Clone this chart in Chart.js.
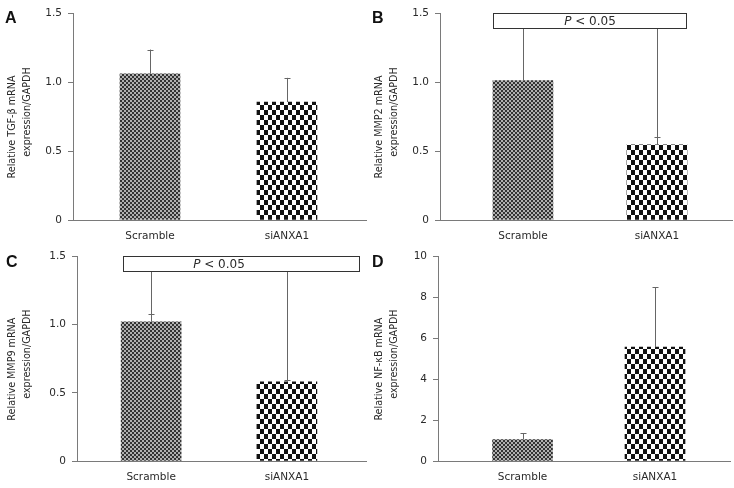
<!DOCTYPE html>
<html>
<head>
<meta charset="utf-8">
<script src="https://cdn.jsdelivr.net/npm/chart.js@4.4.1/dist/chart.umd.min.js"></script>
<style>
  html, body { margin: 0; padding: 0; background: #fff; }
  #wrap { position: relative; width: 734px; height: 488px; overflow: hidden; }
  canvas { position: absolute; }
</style>
</head>
<body>
<div id="wrap">
  <canvas id="cA" width="367" height="244" style="left:0;top:0"></canvas>
  <canvas id="cB" width="367" height="244" style="left:367px;top:0"></canvas>
  <canvas id="cC" width="367" height="244" style="left:0;top:244px"></canvas>
  <canvas id="cD" width="367" height="244" style="left:367px;top:244px"></canvas>
</div>
<script>
// data
const categories = ['Scramble', 'siANXA1'];

const meansA = [1.06, 0.855];
const errA = [0.175, 0.175];
const meansB = [1.01, 0.545];
const errB = [0, 0.055];
const meansC = [1.02, 0.58];
const errC = [0.055, 0.01];
const meansD = [1.05, 5.56];
const errD = [0.31, 2.92];

const ticksSmall = [0, 0.5, 1.0, 1.5];
const tickLabelsSmall = ['0', '0.5', '1.0', '1.5'];
const ticksD = [0, 2, 4, 6, 8, 10];
const tickLabelsD = ['0', '2', '4', '6', '8', '10'];

const titleA = ['Relative TGF-\u03B2 mRNA', 'expression/GAPDH'];
const titleB = ['Relative MMP2 mRNA', 'expression/GAPDH'];
const titleC = ['Relative MMP9 mRNA', 'expression/GAPDH'];
const titleD = ['Relative NF-\u03BAB mRNA', 'expression/GAPDH'];

const sigLabel = ['P', ' < 0.05'];

// layout of each panel (pixels inside its own canvas)
const panels = [
  { id: 'cA', letter: 'A', means: meansA, err: errA, ticks: ticksSmall, labels: tickLabelsSmall, yMax: 1.5,
    title: titleA, area: { l: 73, r: 366, t: 13, b: 220 }, xMin: -0.562, xMax: 1.577, sig: null },
  { id: 'cB', letter: 'B', means: meansB, err: errB, ticks: ticksSmall, labels: tickLabelsSmall, yMax: 1.5,
    title: titleB, area: { l: 73, r: 365, t: 13, b: 220 }, xMin: -0.619, xMax: 1.56,
    sig: { x0: -0.224, x1: 1.216, y0: 1.39, y1: 1.5 } },
  { id: 'cC', letter: 'C', means: meansC, err: errC, ticks: ticksSmall, labels: tickLabelsSmall, yMax: 1.5,
    title: titleC, area: { l: 77, r: 367, t: 11, b: 217 }, xMin: -0.546, xMax: 1.59,
    sig: { x0: -0.207, x1: 1.53, y0: 1.395, y1: 1.5 } },
  { id: 'cD', letter: 'D', means: meansD, err: errD, ticks: ticksD, labels: tickLabelsD, yMax: 10,
    title: titleD, area: { l: 71, r: 363, t: 11, b: 217 }, xMin: -0.638, xMax: 1.566, sig: null }
];

const FONT = 'DejaVu Sans';
const TEXT = '#2a2a2a';
const AXIS = '#7a7a7a';

Chart.defaults.font.family = FONT;
Chart.defaults.font.size = 10.5;
Chart.defaults.color = TEXT;

function makePattern(cw, ch, dark, light) {
  const c = document.createElement('canvas');
  c.width = cw * 2;
  c.height = ch * 2;
  const g = c.getContext('2d');
  g.fillStyle = light;
  g.fillRect(0, 0, c.width, c.height);
  g.fillStyle = dark;
  g.fillRect(0, 0, cw, ch);
  g.fillRect(cw, ch, cw, ch);
  return g.createPattern(c, 'repeat');
}

const patScramble = makePattern(2, 2, '#333333', '#b0b0b0');
const patSi = makePattern(4, 5, '#111111', '#ffffff');

const decorPlugin = {
  id: 'decor',
  afterDatasetsDraw(chart, args, opts) {
    const p = opts.panel;
    const ctx = chart.ctx;
    const xs = chart.scales.x, ys = chart.scales.y;
    ctx.save();
    ctx.strokeStyle = '#666';
    ctx.lineWidth = 1;
    // upper error bars
    p.means.forEach((m, i) => {
      if (!p.err[i]) return;
      const x = Math.round(xs.getPixelForValue(i)) + 0.5;
      const yTop = ys.getPixelForValue(m + p.err[i]);
      const yBar = ys.getPixelForValue(m);
      ctx.beginPath();
      ctx.moveTo(x, yBar);
      ctx.lineTo(x, yTop);
      ctx.moveTo(x - 3, Math.round(yTop) + 0.5);
      ctx.lineTo(x + 3, Math.round(yTop) + 0.5);
      ctx.stroke();
    });
    // significance bracket
    if (p.sig) {
      const s = p.sig;
      const bx0 = Math.round(xs.getPixelForValue(s.x0)) + 0.5;
      const bx1 = Math.round(xs.getPixelForValue(s.x1)) + 0.5;
      const by0 = Math.round(ys.getPixelForValue(s.y0)) + 0.5;
      const by1 = Math.round(ys.getPixelForValue(s.y1)) + 0.5;
      ctx.beginPath();
      p.means.forEach((m, i) => {
        const x = Math.round(xs.getPixelForValue(i)) + 0.5;
        ctx.moveTo(x, ys.getPixelForValue(m + p.err[i]));
        ctx.lineTo(x, by0);
      });
      ctx.stroke();
      ctx.fillStyle = '#fff';
      ctx.fillRect(bx0, by1, bx1 - bx0, by0 - by1);
      ctx.strokeStyle = '#333';
      ctx.strokeRect(bx0, by1, bx1 - bx0, by0 - by1);
      // text centred between the two bars
      const cx = (xs.getPixelForValue(0) + xs.getPixelForValue(1)) / 2;
      const cy = (by0 + by1) / 2 + 0.5;
      ctx.font = 'italic 12px ' + FONT;
      const w0 = ctx.measureText(sigLabel[0]).width;
      ctx.font = '12px ' + FONT;
      const w1 = ctx.measureText(sigLabel[1]).width;
      let tx = cx - (w0 + w1) / 2;
      ctx.fillStyle = TEXT;
      ctx.textBaseline = 'middle';
      ctx.textAlign = 'left';
      ctx.font = 'italic 12px ' + FONT;
      ctx.fillText(sigLabel[0], tx, cy);
      ctx.font = '12px ' + FONT;
      ctx.fillText(sigLabel[1], tx + w0, cy);
    }
    // y axis title, two lines
    const mid = (chart.chartArea.top + chart.chartArea.bottom) / 2;
    ctx.fillStyle = TEXT;
    ctx.font = '9.6px ' + FONT;
    ctx.textAlign = 'center';
    ctx.textBaseline = 'middle';
    [[12.5, 10.5], [27.5, -4.5]].forEach((pos, k) => {
      ctx.save();
      ctx.translate(pos[0], mid + pos[1]);
      ctx.rotate(-Math.PI / 2);
      ctx.fillText(p.title[k], 0, 0);
      ctx.restore();
    });
    // panel letter
    ctx.font = 'bold 16px "Liberation Sans"';
    ctx.textAlign = 'left';
    ctx.textBaseline = 'middle';
    ctx.fillStyle = '#111';
    ctx.fillText(p.letter, p.letter === 'C' ? 6 : 5, chart.chartArea.top + 6);
    ctx.restore();
  }
};

panels.forEach(p => {
  const W = 367, H = 244;
  new Chart(document.getElementById(p.id), {
    type: 'bar',
    data: {
      datasets: [{
        data: p.means.map((v, i) => ({ x: i, y: v })),
        backgroundColor: [patScramble, patSi],
        borderWidth: 0,
        barThickness: 60
      }]
    },
    plugins: [decorPlugin],
    options: {
      responsive: false,
      animation: false,
      events: [],
      layout: { padding: { left: 0, top: p.area.t, right: W - p.area.r, bottom: 0 } },
      plugins: {
        legend: { display: false },
        tooltip: { enabled: false },
        decor: { panel: p }
      },
      scales: {
        x: {
          type: 'linear',
          offset: false,
          min: p.xMin,
          max: p.xMax,
          afterBuildTicks: s => { s.ticks = categories.map((c, i) => ({ value: i })); },
          afterFit: s => { s.height = H - p.area.b; },
          ticks: {
            padding: 10,
            autoSkip: false,
            maxRotation: 0,
            callback: v => categories[v]
          },
          grid: { display: false, drawTicks: false, offset: false },
          border: { display: true, color: AXIS, width: 1 }
        },
        y: {
          min: 0,
          max: p.yMax,
          afterBuildTicks: s => { s.ticks = p.ticks.map(v => ({ value: v })); },
          afterFit: s => { s.width = p.area.l; },
          ticks: {
            padding: 6,
            callback: v => p.labels[p.ticks.indexOf(v)]
          },
          grid: { drawOnChartArea: false, drawTicks: true, tickLength: 5, color: AXIS },
          border: { display: true, color: AXIS, width: 1 }
        }
      }
    }
  });
});
</script>
</body>
</html>
